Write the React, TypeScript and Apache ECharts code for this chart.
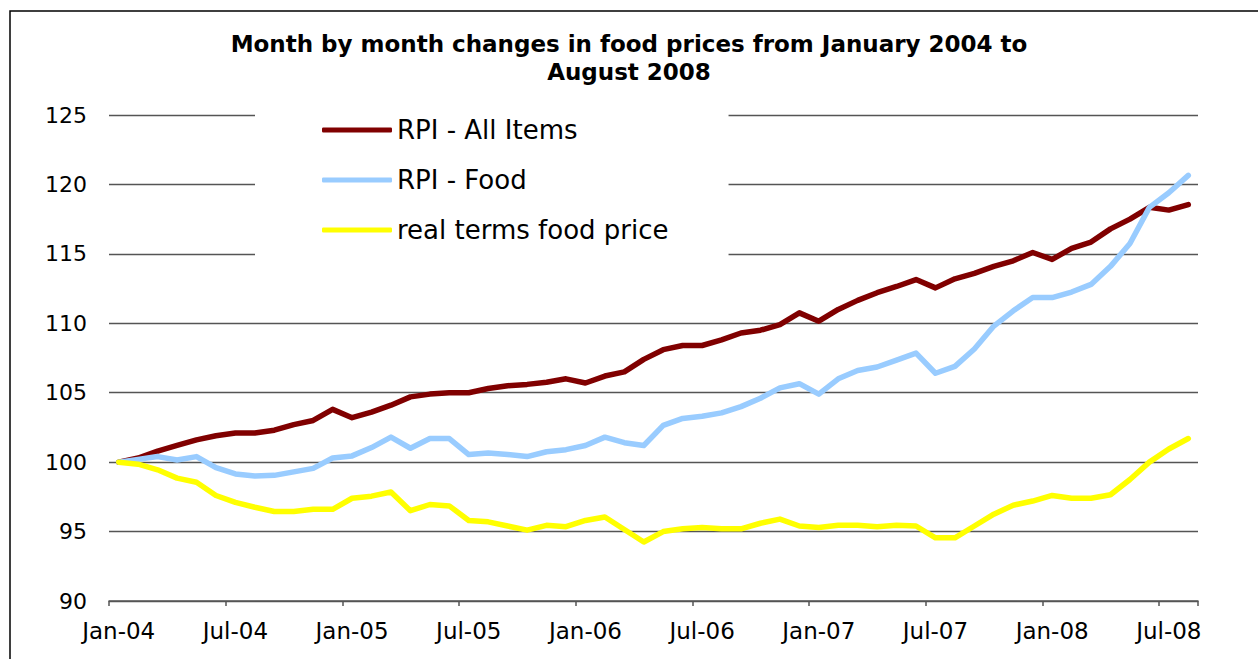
import React, { useEffect, useRef } from 'react';
import * as echarts from 'echarts';

const monthNames = ['Jan', 'Feb', 'Mar', 'Apr', 'May', 'Jun', 'Jul', 'Aug', 'Sep', 'Oct', 'Nov', 'Dec'];
const months: string[] = [];
for (let y = 4; y <= 8; y++) {
  for (let m = 0; m < 12; m++) {
    if (y === 8 && m > 7) break;
    months.push(`${monthNames[m]}-0${y}`);
  }
}

const titleText = 'Month by month changes in food prices from January 2004 to\nAugust 2008';
const seriesNames = ['RPI - All Items', 'RPI - Food', 'real terms food price'];

const rpiAllItems = [
  100, 100.3, 100.8, 101.2, 101.6, 101.9, 102.1, 102.1, 102.3, 102.7,
  103.0, 103.8, 103.2, 103.6, 104.1, 104.7, 104.9, 105.0, 105.0, 105.3,
  105.5, 105.6, 105.75, 106.0, 105.7, 106.2, 106.5, 107.4, 108.1, 108.4,
  108.4, 108.8, 109.3, 109.5, 109.9, 110.75, 110.15, 111.0, 111.65, 112.2,
  112.65, 113.15, 112.55, 113.2, 113.6, 114.1, 114.5, 115.1, 114.6, 115.4,
  115.85, 116.8, 117.5, 118.35, 118.15, 118.55,
];
const rpiFood = [
  100, 100.2, 100.4, 100.15, 100.4, 99.6, 99.15, 99.0, 99.05, 99.3,
  99.55, 100.3, 100.45, 101.05, 101.8, 101.0, 101.7, 101.7, 100.55, 100.65,
  100.55, 100.4, 100.75, 100.9, 101.2, 101.8, 101.4, 101.2, 102.65, 103.15,
  103.3, 103.55, 104.0, 104.6, 105.35, 105.65, 104.9, 106.0, 106.6, 106.85,
  107.35, 107.85, 106.4, 106.9, 108.15, 109.8, 110.9, 111.85, 111.85, 112.25,
  112.8, 114.1, 115.75, 118.35, 119.4, 120.65,
];
const realFood = [
  100, 99.85, 99.45, 98.85, 98.55, 97.6, 97.1, 96.75, 96.45, 96.45,
  96.6, 96.6, 97.4, 97.55, 97.85, 96.5, 96.95, 96.85, 95.8, 95.7,
  95.4, 95.1, 95.45, 95.35, 95.8, 96.05, 95.15, 94.25, 95.0, 95.2,
  95.3, 95.2, 95.2, 95.6, 95.9, 95.4, 95.3, 95.45, 95.45, 95.35,
  95.45, 95.4, 94.55, 94.55, 95.4, 96.25, 96.9, 97.2, 97.6, 97.4,
  97.4, 97.65, 98.75, 100.0, 100.95, 101.7,
];
const seriesColors = ['#800000', '#99CCFF', '#FFFF00'];
const yMin = 90;
const yMax = 125;
const yStep = 5;
const labelEvery = 6;

export default function App() {
  const ref = useRef<HTMLDivElement>(null);
  useEffect(() => {
    if (!ref.current) return;
    const chart = echarts.init(ref.current, undefined, { renderer: 'svg' });
    const font = 'DejaVu Sans';
    const dataSets = [rpiAllItems, rpiFood, realFood];
    const showEvery = (index: number) => index % labelEvery === 0;
    chart.setOption({
      animation: false,
      backgroundColor: '#fff',
      title: {
        text: titleText,
        left: 'center',
        top: 30,
        padding: [0, 0, 0, 24],
        textStyle: {
          fontFamily: font,
          fontSize: 23,
          fontWeight: 'bold',
          lineHeight: 28,
          color: '#000',
        },
      },
      graphic: [
        {
          type: 'rect',
          shape: { x: 10, y: 11, width: 1400, height: 800 },
          style: { fill: 'none', stroke: '#000', lineWidth: 1.5 },
          silent: true,
          z: -10,
        },
      ],
      legend: {
        orient: 'vertical',
        left: 255,
        top: 100,
        padding: [15, 60, 15, 67],
        backgroundColor: '#fff',
        itemWidth: 70,
        itemHeight: 5,
        itemGap: 20,
        icon: 'roundRect',
        data: seriesNames,
        textStyle: {
          fontFamily: font,
          fontSize: 26,
          lineHeight: 30,
          color: '#000',
        },
      },
      grid: { left: 109, right: 60, top: 115, bottom: 58, containLabel: false },
      xAxis: {
        type: 'category',
        data: months,
        boundaryGap: true,
        axisLine: { show: true, lineStyle: { color: '#555', width: 1.5 } },
        axisTick: {
          show: true,
          interval: showEvery,
          alignWithLabel: false,
          length: 5,
          lineStyle: { color: '#555', width: 1.5 },
        },
        axisLabel: {
          interval: showEvery,
          margin: 18,
          fontFamily: font,
          fontSize: 23,
          color: '#000',
        },
        splitLine: { show: false },
      },
      yAxis: {
        type: 'value',
        min: yMin,
        max: yMax,
        interval: yStep,
        axisLine: { show: false },
        axisTick: { show: false },
        axisLabel: { margin: 22, fontFamily: font, fontSize: 22, color: '#000' },
        splitLine: { show: true, lineStyle: { color: '#555', width: 1.3 } },
      },
      series: seriesNames.map((name, i) => ({
        name,
        type: 'line',
        data: dataSets[i],
        symbol: 'none',
        showSymbol: false,
        color: seriesColors[i],
        lineStyle: { color: seriesColors[i], width: 5.5, cap: 'round', join: 'round' },
        itemStyle: { color: seriesColors[i] },
      })),
    });
    return () => chart.dispose();
  }, []);
  return (
    <div
      ref={ref}
      style={{ position: 'fixed', left: 0, top: 0, width: '1258px', height: '659px' }}
    />
  );
}
